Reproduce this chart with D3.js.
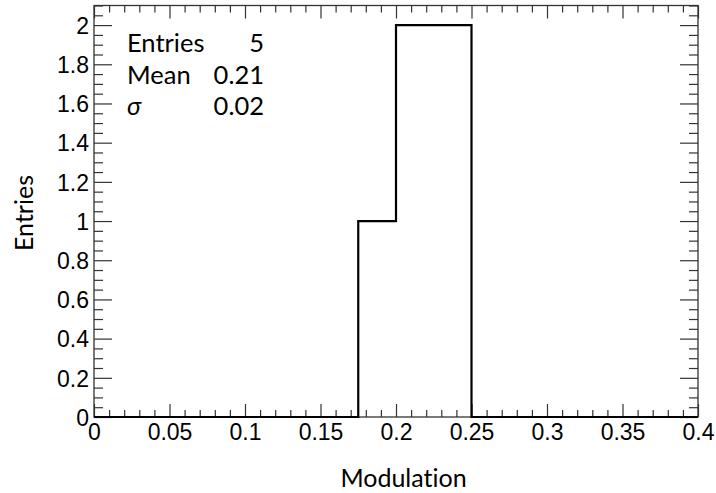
<!DOCTYPE html>
<html>
<head>
<meta charset="utf-8">
<script src="https://cdn.jsdelivr.net/npm/d3@7"></script>
<style>
  html, body { margin: 0; padding: 0; background: #fff; }
  svg { display: block; }
  text { font-variant-ligatures: none; font-feature-settings: "liga" 0, "clig" 0; }
</style>
</head>
<body>
<svg id="chart" width="716" height="493"></svg>
<script>
// Histogram of modulation values: 16 bins of width 0.025 on [0, 0.4]
const binLow = [0, 0.025, 0.05, 0.075, 0.1, 0.125, 0.15, 0.175,
                0.2, 0.225, 0.25, 0.275, 0.3, 0.325, 0.35, 0.375];
const binCounts = [0, 0, 0, 0, 0, 0, 0, 1, 2, 2, 0, 0, 0, 0, 0, 0];
const binWidth = 0.025;

const xTicks = [0, 0.05, 0.1, 0.15, 0.2, 0.25, 0.3, 0.35, 0.4];
const xTickLabels = ["0", "0.05", "0.1", "0.15", "0.2", "0.25", "0.3", "0.35", "0.4"];
const yTicks = [0, 0.2, 0.4, 0.6, 0.8, 1, 1.2, 1.4, 1.6, 1.8, 2];
const yTickLabels = ["0", "0.2", "0.4", "0.6", "0.8", "1", "1.2", "1.4", "1.6", "1.8", "2"];

const statNames = ["Entries", "Mean", "σ"];
const statValues = ["5", "0.21", "0.02"];

const xTitle = "Modulation";
const yTitle = "Entries";

const svg = d3.select("#chart");
const padL = 94, padR = 698, padT = 5.5, padB = 417;

const x = d3.scaleLinear().domain([0, 0.4]).range([padL, padR]);
const y = d3.scaleLinear().domain([0, 2.1]).range([padB, padT]);

const tickFont = "'Liberation Sans', Arial, Helvetica, sans-serif";
const textFont = "Lato, 'Open Sans', sans-serif";
const frameColor = "#333";

// minor tick positions
const xMinor = d3.range(0, 0.4001, 0.01).filter(v => !xTicks.some(t => Math.abs(t - v) < 1e-6));
const yMinor = d3.range(0, 2.1001, 0.05).filter(v => !yTicks.some(t => Math.abs(t - v) < 1e-6));

// axes (bottom/left with labels, top/right mirrored ticks)
function styleAxis(g) {
  g.select(".domain").remove();
  g.selectAll(".tick line").attr("stroke", frameColor).attr("stroke-width", 1.2);
  g.selectAll(".tick text").attr("fill", "#000").style("font-family", tickFont).style("font-size", "23px");
}

const fmtX = (d) => xTickLabels[xTicks.findIndex(t => Math.abs(t - d) < 1e-9)];
const fmtY = (d) => yTickLabels[yTicks.findIndex(t => Math.abs(t - d) < 1e-9)];

svg.append("g").attr("transform", `translate(0,${padB})`)
  .call(d3.axisTop(x).tickValues(xTicks).tickFormat("").tickSizeOuter(0).tickSize(13))
  .call(styleAxis);
svg.append("g").attr("transform", `translate(0,${padB})`)
  .call(d3.axisTop(x).tickValues(xMinor).tickFormat("").tickSizeOuter(0).tickSize(7))
  .call(styleAxis);
svg.append("g").attr("transform", `translate(0,${padB})`)
  .call(d3.axisBottom(x).tickValues(xTicks).tickFormat(fmtX).tickSize(0).tickPadding(7))
  .call(styleAxis)
  .call(g => g.selectAll(".tick text").attr("dy", "0.71em"));

svg.append("g").attr("transform", `translate(0,${padT})`)
  .call(d3.axisBottom(x).tickValues(xTicks).tickFormat("").tickSizeOuter(0).tickSize(13))
  .call(styleAxis);
svg.append("g").attr("transform", `translate(0,${padT})`)
  .call(d3.axisBottom(x).tickValues(xMinor).tickFormat("").tickSizeOuter(0).tickSize(7))
  .call(styleAxis);

svg.append("g").attr("transform", `translate(${padL},0)`)
  .call(d3.axisRight(y).tickValues(yTicks).tickFormat("").tickSizeOuter(0).tickSize(18))
  .call(styleAxis);
svg.append("g").attr("transform", `translate(${padL},0)`)
  .call(d3.axisRight(y).tickValues(yMinor).tickFormat("").tickSizeOuter(0).tickSize(9))
  .call(styleAxis);
svg.append("g").attr("transform", `translate(${padL},0)`)
  .call(d3.axisLeft(y).tickValues(yTicks).tickFormat(fmtY).tickSize(0).tickPadding(5))
  .call(styleAxis)
  .call(g => g.selectAll(".tick text").attr("dy", "0.36em"));

svg.append("g").attr("transform", `translate(${padR},0)`)
  .call(d3.axisLeft(y).tickValues(yTicks).tickFormat("").tickSizeOuter(0).tickSize(18))
  .call(styleAxis);
svg.append("g").attr("transform", `translate(${padR},0)`)
  .call(d3.axisLeft(y).tickValues(yMinor).tickFormat("").tickSizeOuter(0).tickSize(9))
  .call(styleAxis);

// frame
svg.append("rect")
  .attr("x", padL).attr("y", padT)
  .attr("width", padR - padL).attr("height", padB - padT)
  .attr("fill", "none").attr("stroke", frameColor).attr("stroke-width", 1.3);

// histogram outline as a step line
const stepPoints = binLow.map((lo, i) => ({ x: lo, y: binCounts[i] }));
stepPoints.push({ x: binLow[binLow.length - 1] + binWidth, y: binCounts[binCounts.length - 1] });
const step = d3.line().x(d => x(d.x)).y(d => y(d.y)).curve(d3.curveStepAfter);
svg.append("path")
  .datum(stepPoints)
  .attr("d", step)
  .attr("fill", "none")
  .attr("stroke", "#000")
  .attr("stroke-width", 2.2);

// statistics box text
const stats = svg.append("g").style("font-family", textFont).style("font-size", "25.5px").attr("fill", "#000");
statNames.forEach((name, i) => {
  const yy = 52 + i * 31.5;
  stats.append("text").attr("x", 127).attr("y", yy)
    .style("font-style", name === "σ" ? "italic" : "normal")
    .text(name);
  stats.append("text").attr("x", 264).attr("y", yy)
    .attr("text-anchor", "end").text(statValues[i]);
});

// axis titles
svg.append("text")
  .attr("x", (340 + 467) / 2).attr("y", 487)
  .attr("text-anchor", "middle")
  .style("font-family", textFont).style("font-size", "25px")
  .text(xTitle);

svg.append("text")
  .attr("transform", "translate(33,213) rotate(-90)")
  .attr("text-anchor", "middle")
  .style("font-family", textFont).style("font-size", "25px")
  .text(yTitle);
</script>
</body>
</html>
